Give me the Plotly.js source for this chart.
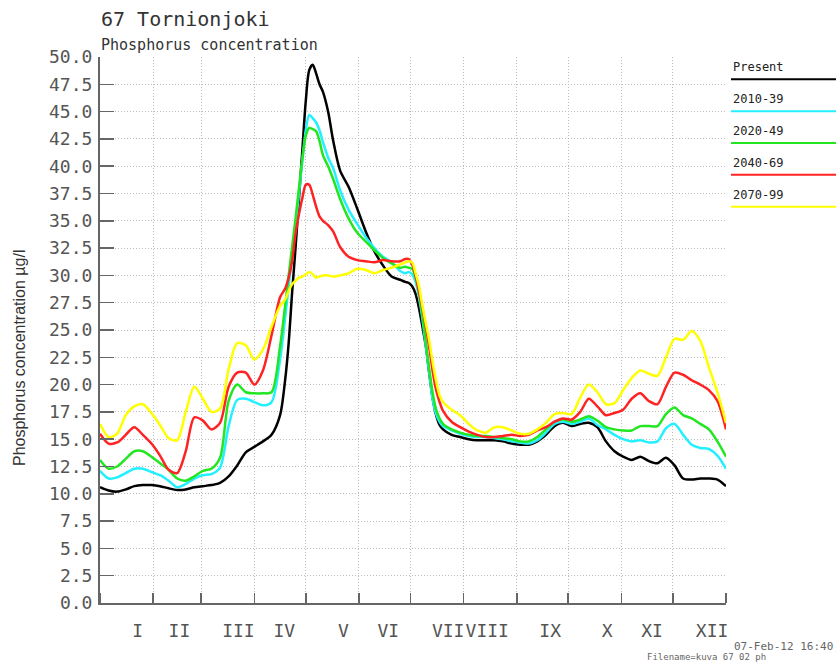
<!DOCTYPE html>
<html>
<head>
<meta charset="utf-8">
<script src="https://cdn.plot.ly/plotly-3.0.1.min.js"></script>
<style>
  html, body { margin: 0; padding: 0; background: #fff; }
  #chart { width: 836px; height: 666px; }
</style>
</head>
<body>
<div id="chart"></div>
<script>
// ---- data (day of year, value in µg/l) ----
const days = [0,5,10,15,20,25,30,35,40,45,50,55,60,65,70,75,80,85,90,95,100,105,
  108,110,112,114,116,118,120,122,124,126,128,130,133,136,
  140,145,150,155,160,165,170,175,
  178,180,182,184,186,188,190,192,194,196,198,200,
  205,210,215,220,225,230,235,240,245,250,255,260,265,270,275,280,285,290,295,
  300,305,310,315,320,325,330,335,340,345,350,355,360,365];

const present = [10.6,10.3,10.2,10.4,10.7,10.8,10.8,10.7,10.5,10.35,10.4,10.6,10.7,10.8,11.0,11.6,12.6,13.8,14.3,14.8,15.4,17.2,
  20.5,23.8,28.4,32.5,37.0,41.5,46.0,48.8,49.3,48.5,47.5,46.8,45.0,42.3,
  39.6,38.1,36.1,34.0,32.2,30.9,29.9,29.6,
  29.4,29.3,29.0,28.3,27.0,25.3,23.5,21.0,18.7,17.2,16.3,15.9,
  15.4,15.2,15.0,14.9,14.9,14.9,14.8,14.6,14.5,14.5,14.8,15.4,16.2,16.5,16.2,16.4,16.5,16.1,14.8,
  13.9,13.4,13.1,13.4,13.0,12.8,13.3,12.6,11.4,11.3,11.4,11.4,11.3,10.7];

const s2010_39 = [12.1,11.4,11.5,11.9,12.3,12.3,12.0,11.7,11.2,10.6,10.9,11.4,11.7,11.8,12.4,16.2,18.6,18.7,18.4,18.1,18.4,22.3,
  26.2,29.0,31.8,34.5,37.5,40.5,43.3,44.7,44.4,44.0,43.3,42.2,40.8,39.8,
  37.8,36.0,34.7,33.5,32.5,31.7,31.2,30.4,
  30.2,30.3,30.1,29.4,28.0,26.0,23.5,21.0,18.6,17.3,16.6,16.2,
  15.8,15.5,15.3,15.2,15.2,15.1,15.0,14.8,14.7,14.6,14.9,15.6,16.4,16.6,16.4,16.6,16.9,16.3,15.9,
  15.4,15.0,14.8,14.9,14.7,14.8,16.0,16.4,15.4,14.5,14.2,14.1,13.5,12.3];

const s2020_49 = [13.1,12.3,12.5,13.2,13.9,13.9,13.4,12.8,12.2,11.4,11.2,11.6,12.1,12.3,13.3,18.5,20.0,19.3,19.2,19.2,19.3,23.5,
  27.3,30.0,32.6,35.2,38.0,40.7,42.8,43.5,43.4,43.2,42.3,41.0,40.0,38.8,
  37.0,35.2,33.9,33.1,32.3,31.6,31.1,30.7,
  30.8,30.7,30.6,29.8,28.4,26.4,23.8,21.4,19.2,17.7,16.9,16.4,
  15.9,15.6,15.4,15.3,15.3,15.2,15.1,15.0,14.8,14.8,15.2,15.9,16.6,16.8,16.6,16.8,17.1,16.7,16.1,
  15.9,15.8,15.8,16.2,16.2,16.2,17.3,17.9,17.2,16.9,16.4,15.9,14.8,13.4];

const s2040_69 = [15.5,14.6,14.7,15.4,16.1,15.4,14.6,13.5,12.2,11.9,13.9,17.0,16.7,15.9,16.5,19.8,21.1,21.1,20.0,21.3,24.5,28.0,
  28.8,29.8,31.3,33.8,35.6,37.1,38.3,38.3,37.4,36.3,35.4,35.0,34.6,34.0,
  32.6,31.7,31.4,31.3,31.2,31.4,31.3,31.3,
  31.5,31.5,31.0,30.0,28.5,27.0,25.3,23.4,21.2,19.5,18.4,17.6,
  16.6,16.1,15.7,15.4,15.2,15.2,15.3,15.4,15.3,15.4,15.8,16.1,16.6,16.9,16.8,17.5,18.7,18.0,17.2,
  17.4,17.7,18.7,19.2,18.5,18.2,19.8,21.1,20.9,20.4,20.0,19.5,18.5,15.9];

const s2070_99 = [16.4,15.2,15.5,17.2,18.0,18.2,17.4,16.3,15.1,14.9,17.5,19.8,18.7,17.5,17.8,21.4,23.8,23.6,22.3,23.2,25.3,27.2,
  27.8,28.6,29.2,29.5,29.8,29.9,30.1,30.3,30.1,29.8,29.9,30.0,30.0,29.9,
  30.0,30.2,30.6,30.5,30.2,30.5,30.7,31.0,
  31.2,31.3,31.2,30.2,29.0,27.2,25.6,24.0,22.0,20.3,19.0,18.4,
  17.7,17.2,16.4,15.8,15.6,16.1,16.1,15.8,15.5,15.5,15.9,16.5,17.3,17.4,17.3,18.8,20.0,19.3,18.2,
  18.3,19.5,20.6,21.3,21.0,20.8,22.5,24.2,24.1,24.9,24.0,21.6,19.3,16.5];

const seriesNames = ['Present','2010-39','2020-49','2040-69','2070-99'];
const seriesValues = [present, s2010_39, s2020_49, s2040_69, s2070_99];
const seriesColors = ['#000000','#22f0ff','#22e622','#ff2222','#ffff00'];

// month boundaries (day of year) and month label positions
const monthEdges = [0,31,59,90,120,151,181,212,243,273,304,334,365];
const monthLabels = ['I','II','III','IV','V','VI','VII','VIII','IX','X','XI','XII'];
const monthLabelDays = [22,46.3,80.7,107.5,141.9,168.1,203,225.8,262.5,295.7,321.9,356.9];

const titleText = '67 Tornionjoki';
const subtitleText = 'Phosphorus concentration';
const yTitleText = 'Phosphorus concentration µg/l';
const stampText = '07-Feb-12 16:40';
const fileText = 'Filename=kuva 67 02 ph';

// ---- layout constants (pixels) ----
const W = 836, H = 666;
const L = 100, R = 110, T = 57, B = 63;
const PW = W - L - R, PH = H - T - B;
const px2x = px => (px - L) / PW;
const py2y = py => (H - B - py) / PH;

const mono = 'DejaVu Sans Mono';
const gridDash = '1px,2px';

const traces = seriesNames.map((n, i) => ({
  type: 'scatter', mode: 'lines', name: n,
  x: days, y: seriesValues[i],
  line: { color: seriesColors[i], width: 2.5, shape: 'spline', smoothing: 0.8 },
  hoverinfo: 'skip'
}));

const annotations = [
  { text: titleText, xref: 'paper', yref: 'paper', x: px2x(99), y: py2y(19), xanchor: 'left', yanchor: 'middle',
    showarrow: false, font: { family: mono, size: 20, color: '#333' } },
  { text: subtitleText, xref: 'paper', yref: 'paper', x: px2x(99), y: py2y(45), xanchor: 'left', yanchor: 'middle',
    showarrow: false, font: { family: mono, size: 15, color: '#333' } },
  { text: yTitleText, xref: 'paper', yref: 'paper', x: px2x(19), y: py2y(358), xanchor: 'center', yanchor: 'middle',
    textangle: -90, showarrow: false, font: { family: 'Liberation Sans', size: 16, color: '#333' } },
  { text: stampText, xref: 'paper', yref: 'paper', x: px2x(835), y: py2y(646), xanchor: 'right', yanchor: 'middle',
    showarrow: false, font: { family: mono, size: 11, color: '#666' } },
  { text: fileText, xref: 'paper', yref: 'paper', x: px2x(645), y: py2y(657), xanchor: 'left', yanchor: 'middle',
    showarrow: false, font: { family: mono, size: 9, color: '#666' } }
];
const shapes = [];
seriesNames.forEach((n, i) => {
  const ly = 79.3 + i * 31.85;
  annotations.push({ text: n, xref: 'paper', yref: 'paper', x: px2x(731), y: py2y(ly - 12), xanchor: 'left', yanchor: 'middle',
    showarrow: false, font: { family: mono, size: 12, color: '#222' } });
  shapes.push({ type: 'line', xref: 'paper', yref: 'paper', x0: px2x(731), x1: px2x(840), y0: py2y(ly), y1: py2y(ly),
    line: { color: seriesColors[i], width: 2 } });
});

const layout = {
  width: W, height: H,
  margin: { l: L, r: R, t: T, b: B, pad: 0 },
  paper_bgcolor: '#fff', plot_bgcolor: '#fff',
  showlegend: false,
  xaxis: {
    range: [0, 365], fixedrange: true,
    tickmode: 'array', tickvals: monthLabelDays, ticktext: monthLabels,
    tickangle: 0,
    ticks: '', showgrid: false, zeroline: false,
    showline: true, linecolor: '#666', linewidth: 2,
    tickfont: { family: mono, size: 18, color: '#555' },
    ticklabelstandoff: 10,
    minor: { tickmode: 'array', tickvals: monthEdges, ticks: 'inside', ticklen: 10, tickwidth: 1.5, tickcolor: '#666',
      showgrid: true, gridcolor: '#bdbdbd', gridwidth: 1, griddash: gridDash }
  },
  yaxis: {
    range: [0, 50], fixedrange: true,
    tickmode: 'linear', tick0: 0, dtick: 2.5, tickformat: '.1f',
    ticks: 'inside', ticklen: 14, tickwidth: 1.5, tickcolor: '#666',
    showgrid: true, gridcolor: '#bdbdbd', gridwidth: 1, griddash: gridDash,
    zeroline: false, showline: true, linecolor: '#666', linewidth: 2,
    tickfont: { family: mono, size: 18, color: '#555' },
    ticklabelstandoff: 2
  },
  annotations: annotations,
  shapes: shapes
};

Plotly.newPlot('chart', traces, layout, { displayModeBar: false, staticPlot: true });
</script>
</body>
</html>
